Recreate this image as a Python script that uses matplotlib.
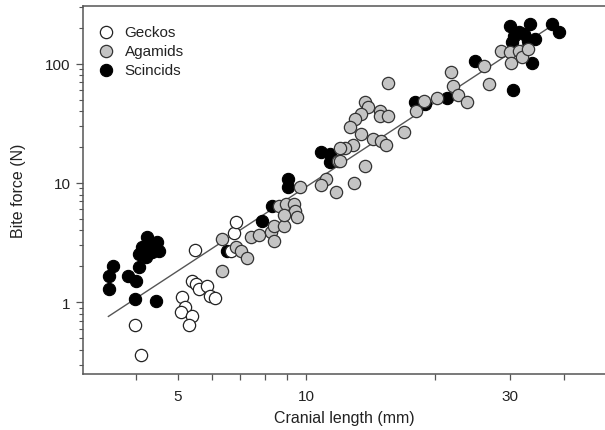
import matplotlib
matplotlib.use("Agg")
import matplotlib.pyplot as plt
from matplotlib.ticker import FixedLocator, NullFormatter, FixedFormatter

plt.rcParams['font.family'] = ['Liberation Sans', 'DejaVu Sans']

# ---- data (cranial length mm, bite force N) ----
gecko_x = [3.98, 4.11, 5.12, 5.20, 5.09, 5.40, 5.31, 5.40, 5.52, 5.61, 5.85, 5.95, 6.11,
           5.49, 6.76, 6.84, 6.65]
gecko_y = [0.64, 0.36, 1.10, 0.91, 0.82, 0.76, 0.64, 1.52, 1.42, 1.29, 1.36, 1.12, 1.08,
           2.73, 3.80, 4.70, 2.68]

scinc_x = [3.46, 3.46, 3.52, 3.83, 4.00, 4.06, 3.96, 4.45,
           4.24, 4.48, 4.13, 4.36, 4.22, 4.52, 4.06, 4.30, 4.18,
           6.51, 7.86, 8.29, 9.08, 9.08, 10.84, 11.37, 11.37,
           17.93, 18.92, 21.29, 24.87, 30.48, 33.75,
           30.0, 33.3, 30.64, 32.33, 34.2, 30.32, 31.4, 32.94, 37.57, 39.11]
scinc_y = [1.29, 1.65, 2.01, 1.65, 1.50, 1.97, 1.06, 1.02,
           3.52, 3.19, 2.90, 2.63, 2.39, 2.68, 2.53, 3.00, 2.70,
           2.68, 4.80, 6.41, 10.8, 9.25, 18.2, 17.5, 15.0,
           47.9, 46.1, 51.3, 106, 59.9, 101,
           208, 217, 172, 179, 162, 153, 186, 156, 217, 186]

agam_x = [6.34, 6.34, 6.84, 7.02, 7.25, 7.41, 7.73, 8.25, 8.38, 8.38, 8.84,
          9.68, 8.61, 8.98, 9.33, 9.43, 8.84, 9.53,
          11.87, 11.13, 10.84, 11.71, 12.93,
          15.52, 13.68, 13.94, 13.39, 13.00, 14.83, 14.83, 15.52, 12.66, 13.39, 16.9,
          14.32, 14.95, 15.35, 12.86, 12.32, 12.00, 12.00, 13.68,
          18.03, 18.82, 20.23,
          21.75, 21.98, 22.7, 23.82, 26.0, 26.81, 28.51, 30.0, 30.16, 31.4, 31.99, 32.94]
agam_y = [1.82, 3.38, 2.90, 2.68, 2.34, 3.52, 3.66, 3.88, 4.35, 3.26, 4.35,
          9.25, 6.41, 6.66, 6.66, 5.82, 5.38, 5.18,
          15.3, 10.8, 9.53, 8.48, 9.90,
          69.2, 47.9, 43.5, 38.0, 34.5, 40.3, 36.6, 36.6, 29.6, 25.8, 26.8,
          23.4, 22.5, 20.7, 20.7, 19.5, 19.5, 15.3, 13.9,
          40.3, 48.9, 51.3,
          85.7, 65.3, 54.4, 47.9, 96.2, 67.3, 129, 126, 101, 129, 113, 134]

fit_x = [3.44, 38.2]
fit_y = [0.76, 217]

x_major = [5, 10, 30]
x_minor = [4, 6, 7, 8, 9, 20, 40]
y_major = [1, 10, 100]
y_minor = [0.3, 0.4, 0.5, 0.6, 0.7, 0.8, 0.9, 2, 3, 4, 5, 6, 7, 8, 9,
           20, 30, 40, 50, 60, 70, 80, 90, 200, 300]

# ---- figure ----
fig = plt.figure(figsize=(6.05, 4.31), dpi=100)
ax = fig.add_axes([83/605, 1 - 375/431, 1 - 83/605, (375 - 7)/431])
ax.set_xscale('log')
ax.set_yscale('log')
ax.set_xlim(3.0, 50)
ax.set_ylim(0.25, 305)

ax.plot(fit_x, fit_y, color='#555555', lw=1.0, zorder=1)

s = 78
ax.scatter(scinc_x, scinc_y, s=s, c='black', edgecolors='black', linewidths=0.8,
           zorder=2, label='Scincids')
ax.scatter(gecko_x, gecko_y, s=s, c='white', edgecolors='#222222', linewidths=0.9,
           zorder=3, label='Geckos')
ax.scatter(agam_x, agam_y, s=s, c='#c4c4c4', edgecolors='#333333', linewidths=0.9,
           zorder=4, label='Agamids')

ax.xaxis.set_major_locator(FixedLocator(x_major))
ax.xaxis.set_major_formatter(FixedFormatter([str(v) for v in x_major]))
ax.xaxis.set_minor_locator(FixedLocator(x_minor))
ax.xaxis.set_minor_formatter(NullFormatter())
ax.yaxis.set_major_locator(FixedLocator(y_major))
ax.yaxis.set_major_formatter(FixedFormatter([str(v) for v in y_major]))
ax.yaxis.set_minor_locator(FixedLocator(y_minor))
ax.yaxis.set_minor_formatter(NullFormatter())

spc = '#555555'
ax.spines['right'].set_visible(False)
for side in ['left', 'bottom', 'top']:
    ax.spines[side].set_color(spc)
    ax.spines[side].set_linewidth(1.1)

ax.tick_params(axis='x', which='both', direction='out', length=4, width=0.9,
               color=spc, labelsize=11, labelcolor='#222222', pad=7)
ax.tick_params(axis='y', which='major', direction='out', length=5, width=0.9,
               color=spc, labelsize=11, labelcolor='#222222', pad=4)
ax.tick_params(axis='y', which='minor', direction='out', length=3, width=0.8, color=spc)

ax.set_xlabel('Cranial length (mm)', fontsize=11.5, color='#222222', labelpad=5)
ax.set_ylabel('Bite force (N)', fontsize=11.5, color='#222222', labelpad=14)

h, l = ax.get_legend_handles_labels()
order = [1, 2, 0]
leg = ax.legend([h[i] for i in order], [l[i] for i in order], loc='upper left',
                frameon=False, fontsize=11, handletextpad=0.65, labelspacing=0.33,
                borderaxespad=0.0, handlelength=1.2, bbox_to_anchor=(0.014, 0.965))
for t in leg.get_texts():
    t.set_color('#222222')

fig.savefig('out.png', dpi=100)
